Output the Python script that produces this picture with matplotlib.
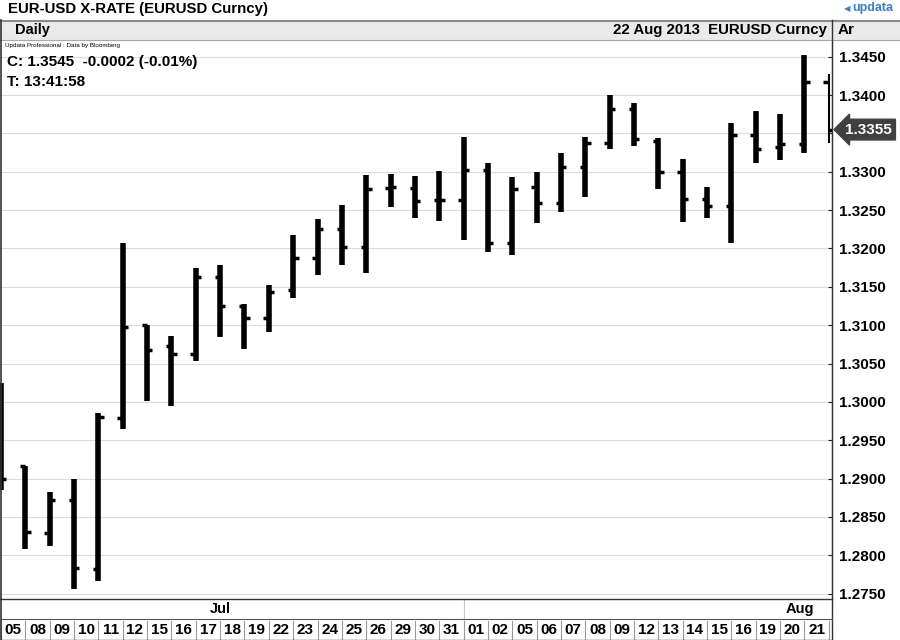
import numpy as np
import matplotlib.pyplot as plt
from matplotlib.patches import Rectangle
import matplotlib.transforms as mtransforms

plt.rcParams['font.family'] = ['Liberation Sans', 'DejaVu Sans']

# daily EUR-USD bars, 05 Jul - 22 Aug 2013
days = ["05", "08", "09", "10", "11", "12", "15", "16", "17", "18", "19",
        "22", "23", "24", "25", "26", "29", "30", "31",
        "01", "02", "05", "06", "07", "08", "09", "12", "13", "14", "15",
        "16", "19", "20", "21", "22"]
opens = [1.3010, 1.2916, 1.2829, 1.2872, 1.2782, 1.2979, 1.3100, 1.3073,
         1.3062, 1.3163, 1.3125, 1.3110, 1.3146, 1.3187, 1.3225, 1.3202,
         1.3279, 1.3279, 1.3263, 1.3263, 1.3302, 1.3207, 1.3280, 1.3259,
         1.3306, 1.3337, 1.3382, 1.3340, 1.3300, 1.3265, 1.3255, 1.3348,
         1.3332, 1.3336, 1.3417]
highs = [1.3025, 1.2916, 1.2883, 1.2899, 1.2985, 1.3207, 1.3100, 1.3086,
         1.3174, 1.3178, 1.3127, 1.3153, 1.3217, 1.3239, 1.3257, 1.3296,
         1.3297, 1.3294, 1.3301, 1.3345, 1.3311, 1.3293, 1.3300, 1.3324,
         1.3345, 1.3400, 1.3390, 1.3344, 1.3317, 1.3280, 1.3363, 1.3379,
         1.3375, 1.3452, 1.3427]
lows = [1.2885, 1.2808, 1.2812, 1.2756, 1.2766, 1.2964, 1.3001, 1.2995,
        1.3053, 1.3085, 1.3069, 1.3091, 1.3135, 1.3165, 1.3178, 1.3168,
        1.3254, 1.3240, 1.3236, 1.3211, 1.3195, 1.3191, 1.3233, 1.3247,
        1.3267, 1.3330, 1.3334, 1.3277, 1.3235, 1.3240, 1.3207, 1.3311,
        1.3315, 1.3324, 1.3337]
closes = [1.2900, 1.2830, 1.2872, 1.2783, 1.2980, 1.3098, 1.3067, 1.3062,
          1.3163, 1.3125, 1.3110, 1.3143, 1.3187, 1.3225, 1.3202, 1.3277,
          1.3280, 1.3262, 1.3263, 1.3302, 1.3207, 1.3277, 1.3259, 1.3306,
          1.3337, 1.3382, 1.3343, 1.3300, 1.3265, 1.3255, 1.3348, 1.3330,
          1.3336, 1.3417, 1.3355]
months = ["Jul", "Aug"]
month_label_x = [9.0, 32.8]
month_break = 19
yticks = np.round(np.arange(1.2750, 1.34501, 0.005), 4)

fig = plt.figure(figsize=(9, 6.4), dpi=100)
fig.patch.set_facecolor("white")

# main price axes (pixels: x 0-832, y 40-599)
ax = fig.add_axes([0, 41 / 640, 832 / 900, 559 / 640])
ax.set_xlim(-0.041, 34.13)
ax.set_ylim(1.27430, 1.34718)

x = np.arange(len(days))
n = len(days)
for yt in yticks:
    ax.axhline(yt, color="#dcdcdc", lw=0.8, zorder=0)

ax.vlines(x[:-1], lows[:-1], highs[:-1], color="black", lw=4.0, zorder=3)
ax.vlines(x[-1:], lows[-1:], highs[-1:], color="black", lw=1.5, zorder=3)
ax.hlines(opens, x - 0.22, x, color="black", lw=2.5, zorder=3)
ax.hlines(closes, x, x + 0.22, color="black", lw=2.5, zorder=3)

# the last-price marker hides the label it sits on
last = closes[-1]
ylabels = ["" if abs(v - last) < 0.0025 else f"{v:.4f}" for v in yticks]
ax.yaxis.tick_right()
ax.set_yticks(yticks)
ax.set_yticklabels(ylabels, fontsize=11, fontweight="bold")
ax.tick_params(axis="y", direction="in", length=3, pad=5, colors="#222222",
               labelcolor="black")
ax.set_xticks([])
for s in ["top", "bottom", "left"]:
    ax.spines[s].set_visible(False)
ax.spines["right"].set_color("#333333")

# last price marker
trans = mtransforms.blended_transform_factory(ax.transAxes, ax.transData)
ax.text(1.016, last, f"{last:.4f}", transform=trans, ha="left",
        va="center", fontsize=11, fontweight="bold", color="white",
        clip_on=False, zorder=6,
        bbox=dict(boxstyle="larrow,pad=0.22", fc="#404040", ec="#404040"))

# date rows below the plot
bx = fig.add_axes([0, 0, 832 / 900, 41 / 640], sharex=ax)
bx.set_ylim(0, 2)
bx.axis("off")
for i in range(n + 1):
    bx.plot([i, i], [0, 0.95], color="#9a9a9a", lw=0.8)
for i, d in enumerate(days):
    bx.text(i + 0.5, 0.47, d, ha="center", va="center", fontsize=11,
            fontweight="bold", clip_on=True)
bx.plot([month_break, month_break], [1.0, 2.0], color="#c8c8c8", lw=0.8)
for m, mx in zip(months, month_label_x):
    bx.text(mx, 1.5, m, ha="center", va="center", fontsize=10.5,
            fontweight="bold")

# overlay in pixel coordinates for header and frame
ov = fig.add_axes([0, 0, 1, 1], zorder=5)
ov.set_xlim(0, 900)
ov.set_ylim(640, 0)
ov.axis("off")
ov.patch.set_alpha(0)
ov.add_patch(Rectangle((0, 20), 900, 20, facecolor="#eaeaea",
                       edgecolor="none", zorder=0))
ov.plot([0, 900], [20.5, 20.5], color="#8a8a8a", lw=1.5)
ov.plot([0, 900], [40, 40], color="#a8a8a8", lw=0.8)
ov.plot([832, 832], [20, 640], color="#333333", lw=1)
ov.plot([0.6, 0.6], [20, 640], color="#333333", lw=1.2)
ov.plot([0, 832], [599, 599], color="#333333", lw=1)
ov.plot([0, 832], [619, 619], color="#555555", lw=0.8)
ov.plot([0, 832], [639.5, 639.5], color="#333333", lw=1)

ov.text(8, 9, "EUR-USD X-RATE (EURUSD Curncy)", ha="left", va="center",
        fontsize=10.8, fontweight="bold")
ov.text(852, 8, "updata", ha="left", va="center", fontsize=9,
        fontweight="bold", color="#3d7fc4")
ov.text(850, 8.5, "◀", ha="right", va="center", fontsize=6, color="#3d7fc4",
        family=["DejaVu Sans"])
ov.text(15, 30, "Daily", ha="left", va="center", fontsize=10.5,
        fontweight="bold")
ov.text(827, 30, "22 Aug 2013  EURUSD Curncy", ha="right", va="center",
        fontsize=10.8, fontweight="bold")
ov.text(838, 30, "Ar", ha="left", va="center", fontsize=11,
        fontweight="bold")
ov.text(5, 45, "Updata Professional : Data by Bloomberg", ha="left",
        va="center", fontsize=4.5)
ov.text(7, 62, "C: 1.3545  -0.0002 (-0.01%)", ha="left", va="center",
        fontsize=11, fontweight="bold")
ov.text(7, 82, "T: 13:41:58", ha="left", va="center", fontsize=11,
        fontweight="bold")

plt.savefig("out.png", dpi=100)
